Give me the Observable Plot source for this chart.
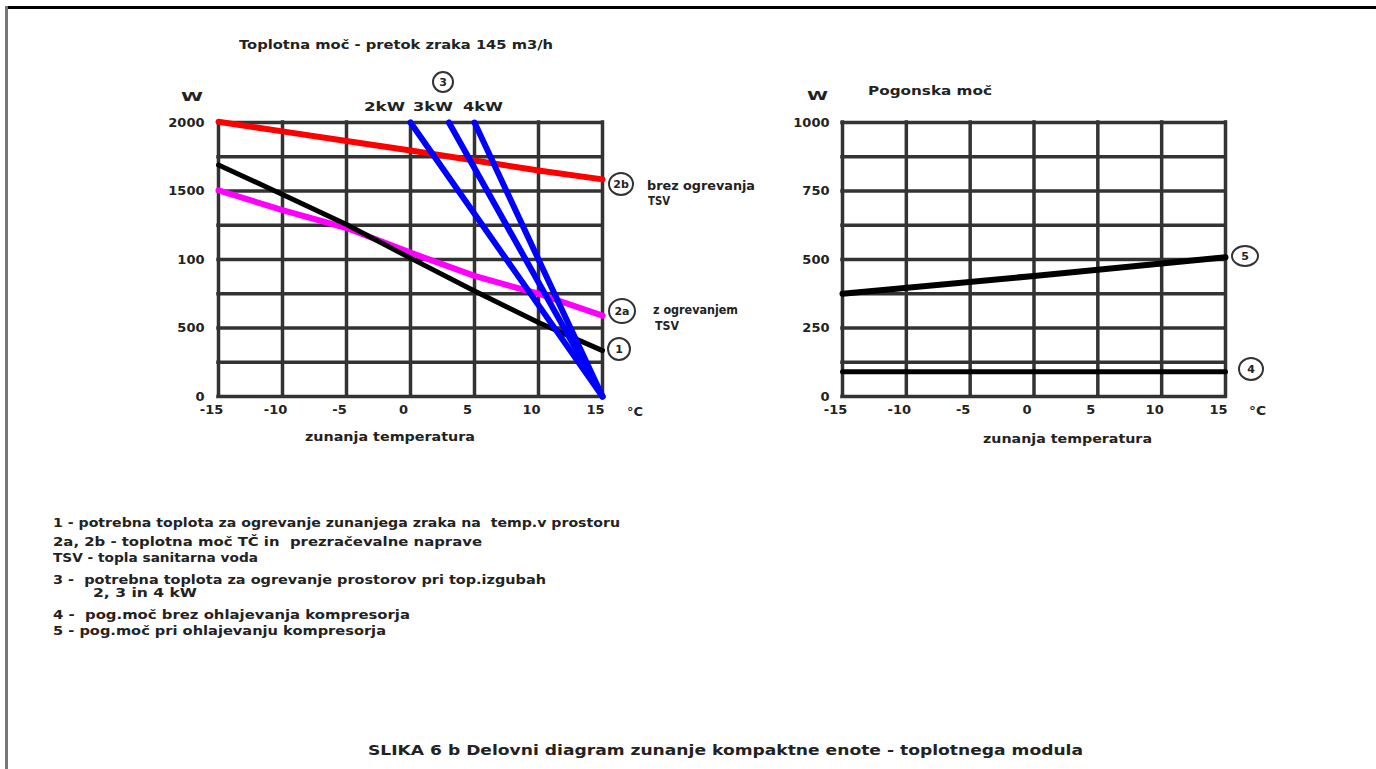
<!DOCTYPE html>
<html>
<head>
<meta charset="utf-8">
<script src="https://cdn.jsdelivr.net/npm/d3@7"></script>
<script src="https://cdn.jsdelivr.net/npm/@observablehq/plot@0.6"></script>
<style>
  html, body { margin: 0; padding: 0; background: #fff; }
  #page { position: relative; width: 1376px; height: 769px; overflow: hidden; background: #fff;
          font-family: "DejaVu Sans", "Liberation Sans", Arial, sans-serif; font-weight: bold; color: #222; }
  .t { position: absolute; white-space: pre; line-height: 1; transform-origin: 0 50%; }
  .c { position: absolute; border: 2.5px solid #333; border-radius: 50%; box-sizing: border-box;
       display: flex; align-items: center; justify-content: center; font-size: 11px; color: #222; }
  .plot { position: absolute; top: 0; }
</style>
</head>
<body>
<div id="page"></div>
<script>
// ---------- data ----------
const xTicks = [-15, -10, -5, 0, 5, 10, 15];

// left chart: toplotna moč (W)
const leftGrid = [0, 250, 500, 750, 1000, 1250, 1500, 1750, 2000];
const leftTickValues = [0, 500, 1000, 1500, 2000];
const leftTickLabels = ["0", "500", "100", "1500", "2000"];

const temps = [-15, -10, -5, 0, 5, 10, 15];
const line1 = [1690, 1475, 1255, 1010, 770, 540, 335];     // 1 - potrebna toplota
const line2a = [1505, 1360, 1230, 1050, 880, 750, 590];    // 2a - z ogrevanjem TSV
const line2b = [2005, 1935, 1865, 1796, 1723, 1650, 1585]; // 2b - brez ogrevanja TSV

// 3 - toplotne izgube 2, 3, 4 kW
const lossTemps2kW = [0, 15], loss2kW = [2000, 0];
const lossTemps3kW = [3, 15], loss3kW = [2000, 0];
const lossTemps4kW = [5, 15], loss4kW = [2000, 0];

// right chart: pogonska moč (W)
const rightGrid = [0, 125, 250, 375, 500, 625, 750, 875, 1000];
const rightTickValues = [0, 250, 500, 750, 1000];
const rightTickLabels = ["0", "250", "500", "750", "1000"];
const line5Temps = [-15, 0, 15], line5 = [375, 440, 508];
const line4Temps = [-15, 15],    line4 = [90, 90];

const toRows = (xs, ys) => xs.map((x, i) => ({x, y: ys[i]}));

const page = document.getElementById("page");

// frame of the page
function box(l, t, w, h, bg) {
  const d = document.createElement("div");
  Object.assign(d.style, {position: "absolute", left: l + "px", top: t + "px", width: w + "px", height: h + "px", background: bg});
  page.appendChild(d);
}
box(5, 6, 1371, 3, "#000");
box(5, 6, 3, 763, "#777");

const baseStyle = {fontFamily: "DejaVu Sans, Liberation Sans, Arial, sans-serif", fontWeight: "bold", fontSize: "12px",
                   color: "#222", background: "transparent", overflow: "visible"};

// ---------- left chart ----------
const leftLabelMap = new Map(leftTickValues.map((v, i) => [v, leftTickLabels[i]]));
const left = Plot.plot({
  width: 660, height: 460,
  marginLeft: 218, marginRight: 58, marginTop: 122, marginBottom: 64,
  x: {domain: [-15, 15]},
  y: {domain: [0, 2000]},
  style: baseStyle,
  marks: [
    Plot.ruleX(xTicks, {stroke: "#333", strokeWidth: 3.5, strokeLinecap: "square"}),
    Plot.ruleY(leftGrid, {stroke: "#333", strokeWidth: 3.5, strokeLinecap: "square"}),
    Plot.line(toRows(temps, line2b), {x: "x", y: "y", stroke: "#ff0000", strokeWidth: 6}),
    Plot.line(toRows(temps, line2a), {x: "x", y: "y", stroke: "#ff00ff", strokeWidth: 6}),
    Plot.line(toRows(temps, line1), {x: "x", y: "y", stroke: "#000", strokeWidth: 5}),
    Plot.line(toRows(lossTemps2kW, loss2kW), {x: "x", y: "y", stroke: "#0000ff", strokeWidth: 6}),
    Plot.line(toRows(lossTemps3kW, loss3kW), {x: "x", y: "y", stroke: "#0000ff", strokeWidth: 6}),
    Plot.line(toRows(lossTemps4kW, loss4kW), {x: "x", y: "y", stroke: "#0000ff", strokeWidth: 6}),
    Plot.axisX(xTicks, {tickSize: 0, tickPadding: 8, dx: -7, label: null, fontSize: 13, fontWeight: "bold", tickFormat: d => String(d)}),
    Plot.axisY(leftTickValues, {tickSize: 0, tickPadding: 14, label: null, fontSize: 13, fontWeight: "bold", tickFormat: d => leftLabelMap.get(d)})
  ]
});
left.classList.add("plot");
left.style.left = "0px";
page.appendChild(left);

// ---------- right chart ----------
const rightLabelMap = new Map(rightTickValues.map((v, i) => [v, rightTickLabels[i]]));
const right = Plot.plot({
  width: 620, height: 460,
  marginLeft: 142, marginRight: 95, marginTop: 122, marginBottom: 64,
  x: {domain: [-15, 15]},
  y: {domain: [0, 1000]},
  style: baseStyle,
  marks: [
    Plot.ruleX(xTicks, {stroke: "#333", strokeWidth: 3.5, strokeLinecap: "square"}),
    Plot.ruleY(rightGrid, {stroke: "#333", strokeWidth: 3.5, strokeLinecap: "square"}),
    Plot.line(toRows(line5Temps, line5), {x: "x", y: "y", stroke: "#000", strokeWidth: 6}),
    Plot.line(toRows(line4Temps, line4), {x: "x", y: "y", stroke: "#000", strokeWidth: 5}),
    Plot.axisX(xTicks, {tickSize: 0, tickPadding: 8, dx: -7, label: null, fontSize: 13, fontWeight: "bold", tickFormat: d => String(d)}),
    Plot.axisY(rightTickValues, {tickSize: 0, tickPadding: 13, label: null, fontSize: 13, fontWeight: "bold", tickFormat: d => rightLabelMap.get(d)})
  ]
});
right.classList.add("plot");
right.style.left = "700px";
page.appendChild(right);

// ---------- texts ----------
const fits = [];
function txt(s, x, y, w, size) {
  const d = document.createElement("div");
  d.className = "t";
  d.textContent = s;
  d.style.left = x + "px";
  d.style.fontSize = size + "px";
  d.style.top = (y - size / 2) + "px";
  page.appendChild(d);
  fits.push([d, w]);
}
function circ(s, cx, cy, w, h) {
  const d = document.createElement("div");
  d.className = "c";
  d.textContent = s;
  Object.assign(d.style, {left: (cx - w / 2) + "px", top: (cy - h / 2) + "px", width: w + "px", height: h + "px"});
  page.appendChild(d);
}

txt("Toplotna moč - pretok zraka 145 m3/h", 239, 44, 314, 13);
txt("W", 181, 96, 22, 13);
txt("2kW", 364, 107, 41, 12);
txt("3kW", 413, 107, 40, 12);
txt("4kW", 463, 107, 40, 12);
circ("3", 443, 82, 22, 22);
circ("2b", 621, 184, 26, 24);
txt("brez ogrevanja", 647, 186, 108, 12);
txt("TSV", 648, 201, 22, 12);
circ("2a", 622, 311, 28, 26);
txt("z ogrevanjem", 653, 310, 85, 12);
txt("TSV", 655, 326, 24, 12);
circ("1", 619, 349, 24, 24);
txt("°C", 627, 412, 16, 12);
txt("zunanja temperatura", 305, 437, 170, 12);

txt("W", 807, 95, 21, 13);
txt("Pogonska moč", 868, 91, 124, 12);
circ("5", 1245, 256, 28, 22);
circ("4", 1251, 369, 26, 24);
txt("°C", 1249, 411, 17, 12);
txt("zunanja temperatura", 983, 439, 169, 12);

txt("1 - potrebna toplota za ogrevanje zunanjega zraka na  temp.v prostoru", 53, 522, 567, 13);
txt("2a, 2b - toplotna moč TČ in  prezračevalne naprave", 53, 541, 429, 13);
txt("TSV - topla sanitarna voda", 53, 557, 205, 13);
txt("3 -  potrebna toplota za ogrevanje prostorov pri top.izgubah", 53, 579, 493, 13);
txt("2, 3 in 4 kW", 93, 592, 104, 13);
txt("4 -  pog.moč brez ohlajevanja kompresorja", 53, 614, 357, 13);
txt("5 - pog.moč pri ohlajevanju kompresorja", 53, 630, 333, 13);

txt("SLIKA 6 b Delovni diagram zunanje kompaktne enote - toplotnega modula", 368, 750, 715, 14);

// fit each text to the width it takes in the reference
for (const [d, w] of fits) {
  const actual = d.getBoundingClientRect().width;
  if (actual > 0) d.style.transform = `scaleX(${w / actual})`;
}
</script>
</body>
</html>
